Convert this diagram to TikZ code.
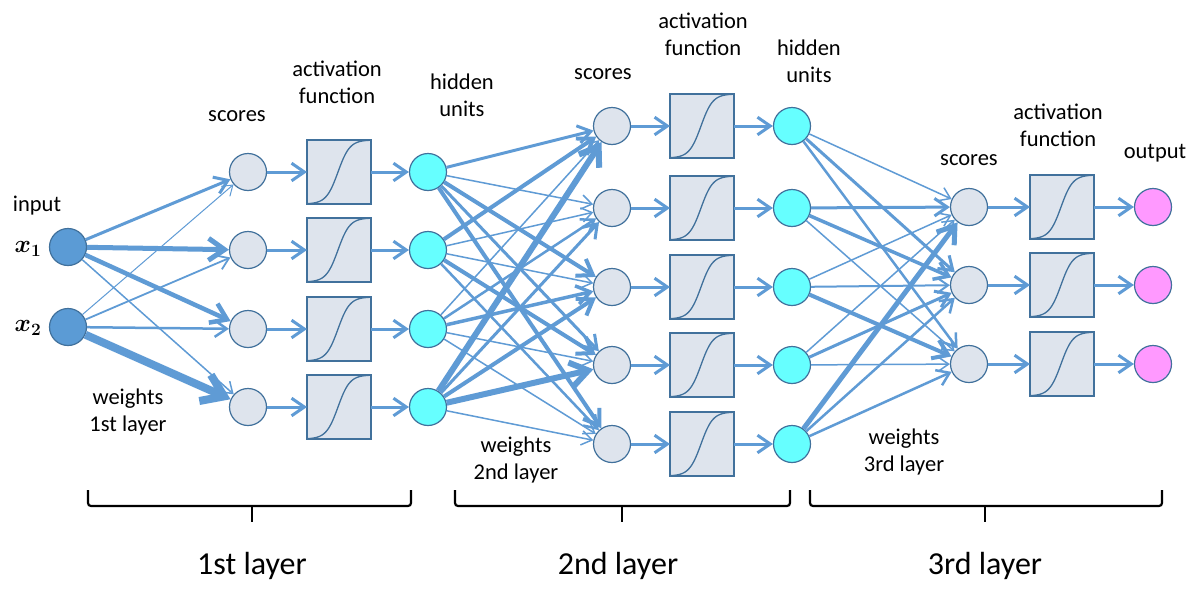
\documentclass[tikz,border=0pt]{standalone}
\usepackage{amsmath,bm}
\usepackage{fontspec}
\setmainfont{Carlito}
\usetikzlibrary{arrows.meta}
\definecolor{wire}{RGB}{95,155,213}
\definecolor{rim}{RGB}{65,113,156}
\definecolor{grayfill}{RGB}{222,228,237}
\definecolor{inpfill}{RGB}{91,155,213}
\definecolor{hidfill}{RGB}{102,255,255}
\definecolor{outfill}{RGB}{255,153,255}
\newcommand\sigmoidin[1]{%
  \begin{scope}[shift={(#1.south west)}]
    \draw[sigm] plot[domain=0:64, samples=60, smooth] (\x,{-64/(1+exp(-0.17*(\x-31)))});
  \end{scope}}
\begin{document}
\begin{tikzpicture}[x=1pt,y=-1pt,
  unit/.style={circle, minimum size=37pt, inner sep=0pt, draw=rim, line width=1.2pt},
  inpunit/.style={unit, fill=inpfill},
  scoreunit/.style={unit, fill=grayfill},
  hidunit/.style={unit, fill=hidfill},
  outunit/.style={unit, fill=outfill},
  actbox/.style={rectangle, minimum size=64pt, inner sep=0pt, outer sep=0pt, draw=rim, line width=1.6pt, fill=grayfill},
  wt/.style={draw=wire, line width=#1pt, -{Straight Barb[length=8pt 1.6, width=11pt 2.2]}},
  lbl/.style={font=\fontsize{22.5}{27}\selectfont, align=center, inner sep=0pt},
  mlbl/.style={font=\fontsize{24}{28}\selectfont, inner sep=0pt},
  biglbl/.style={font=\fontsize{32}{36}\selectfont, inner sep=0pt},
  bracket/.style={draw=black, line width=2.2pt, rounded corners=3pt},
  sigm/.style={draw=rim, line width=1.3pt}
]
\fill[white] (0,0) rectangle (1200,600);
\useasboundingbox (0,0) rectangle (1200,600);

% ---------- nodes ----------
\node[inpunit] (x1) at (68,247) {};
\node[inpunit] (x2) at (68,327) {};

\foreach \r/\y in {1/172,2/250,3/329,4/407}{
  \node[scoreunit] (sa\r) at (248,\y) {};
  \node[actbox] (aa\r) at (339,\y) {};
  \node[hidunit] (ha\r) at (428,\y) {};
}
\foreach \r/\y in {1/126,2/208,3/287,4/365,5/444}{
  \node[scoreunit] (sb\r) at (612,\y) {};
  \node[actbox] (ab\r) at (702,\y) {};
  \node[hidunit] (hb\r) at (792,\y) {};
}
\foreach \r/\y in {1/207,2/285,3/364}{
  \node[scoreunit] (sc\r) at (969,\y) {};
  \node[actbox] (ac\r) at (1062,\y) {};
  \node[outunit] (oc\r) at (1153,\y) {};
}
\foreach \n in {aa1,aa2,aa3,aa4,ab1,ab2,ab3,ab4,ab5,ac1,ac2,ac3}{\sigmoidin{\n}}

% ---------- labels ----------
\node[lbl] (tinput) at (37,206) {input};
\node[mlbl] (tx1) at (28,249) {$\bm{x_1}$};
\node[mlbl] (tx2) at (28,328) {$\bm{x_2}$};
\node[lbl] (tsa) at (237,116) {scores};
\node[lbl] (taa) at (337,82) {activation\\function};
\node[lbl] (tha) at (462,95) {hidden\\units};
\node[lbl] (tsb) at (603,74) {scores};
\node[lbl] (tab) at (703,34) {activation\\function};
\node[lbl] (thb) at (809,61) {hidden\\units};
\node[lbl] (tsc) at (969,160) {scores};
\node[lbl] (tac) at (1058,125) {activation\\function};
\node[lbl] (tout) at (1155,153) {output};
\node[lbl] (twa) at (128,412) {weights\\1st layer};
\node[lbl] (twb) at (516,460) {weights\\2nd layer};
\node[lbl] (twc) at (904,452) {weights\\3rd layer};

% ---------- weights ----------
\foreach \i/\j/\w in {1/1/3, 1/2/5, 1/3/4.5, 1/4/1.5, 2/1/1, 2/2/1.8, 2/3/2.5, 2/4/8}
  \draw[wt=\w] (x\i) -- (sa\j);
\foreach \i/\j/\w in {1/1/3, 1/2/1.5, 1/3/4, 1/4/3, 1/5/4,
                      2/1/4, 2/2/1.5, 2/3/1.5, 2/4/4, 2/5/2.5,
                      3/1/1.5, 3/2/2.5, 3/3/3.5, 3/4/1.5, 3/5/1.5,
                      4/1/6, 4/2/3, 4/3/4, 4/4/6, 4/5/1.5}
  \draw[wt=\w] (ha\i) -- (sb\j);
\foreach \i/\j/\w in {1/1/1.5, 1/2/3, 1/3/2.5,
                      2/1/3, 2/2/3.5, 2/3/1.5,
                      3/1/1.5, 3/2/2, 3/3/4,
                      4/1/1.5, 4/2/3, 4/3/1.5,
                      5/1/5, 5/2/2.5, 5/3/2.5}
  \draw[wt=\w] (hb\i) -- (sc\j);

\foreach \r in {1,2,3,4}{
  \draw[wt=3] (sa\r) -- (aa\r);
  \draw[wt=3] (aa\r) -- (ha\r);
}
\foreach \r in {1,2,3,4,5}{
  \draw[wt=3] (sb\r) -- (ab\r);
  \draw[wt=3] (ab\r) -- (hb\r);
}
\foreach \r in {1,2,3}{
  \draw[wt=3] (sc\r) -- (ac\r);
  \draw[wt=3] (ac\r) -- (oc\r);
}

% ---------- brackets ----------
\draw[bracket] (88,490) -- (88,506) -- (411,506) -- (411,490);
\draw[bracket, rounded corners=0pt] (252,506) -- (252,522);
\draw[bracket] (455,490) -- (455,506) -- (790,506) -- (790,490);
\draw[bracket, rounded corners=0pt] (622,506) -- (622,522);
\draw[bracket] (810,490) -- (810,506) -- (1162,506) -- (1162,490);
\draw[bracket, rounded corners=0pt] (985,506) -- (985,522);

\node[biglbl] (l1) at (252,566) {1st layer};
\node[biglbl] (l2) at (618,566) {2nd layer};
\node[biglbl] (l3) at (985,566) {3rd layer};
\end{tikzpicture}
\end{document}
